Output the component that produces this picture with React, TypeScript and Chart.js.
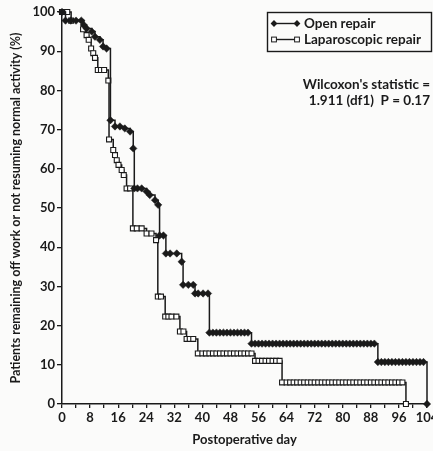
import React, { useEffect, useRef } from "react";
import { Chart, registerables } from "chart.js";

Chart.register(...registerables);

// ---- Data ----
const seriesNames = ["Open repair", "Laparoscopic repair"];

const openDays = [
  0, 1, 2.5, 4, 5.5, 6.2, 7, 8.5, 9.4, 10.8, 11.7, 12.7, 13.8, 15.1, 16.5, 17.9, 19.4,
  20.3, 20.6, 21.5, 22.7, 24.1, 25, 26.5, 27.4, 27.8, 28.9, 29.6, 30.8, 32.7, 34.1,
  34.5, 36, 37.4, 37.9, 38.8, 40.2, 41.6, 42, 43, 44, 45, 46, 47, 48, 49, 50, 51, 52,
  53, 54, 55, 56, 57, 58, 59, 60, 61, 62, 63, 64, 65, 66, 67, 68, 69, 70, 71, 72, 73,
  74, 75, 76, 77, 78, 79, 80, 81, 82, 83, 84, 85, 86, 87, 88, 89, 90, 91, 92, 93, 94,
  95, 96, 97, 98, 99, 100, 101, 102, 103, 104,
];
const openValues = [
  100, 97.8, 97.8, 97.8, 97.8, 96.7, 95.8, 95, 93.7, 92.9, 91.2, 90.7, 72.4, 70.8, 70.8,
  70.3, 69.5, 65.2, 55, 55, 55, 54.2, 53.3, 52, 50.8, 43, 43, 38.4, 38.4, 38.4, 36.3,
  30.4, 30.4, 30.4, 28.2, 28.2, 28.2, 28.2, 18.2, 18.2, 18.2, 18.2, 18.2, 18.2, 18.2,
  18.2, 18.2, 18.2, 18.2, 18.2, 15.4, 15.4, 15.4, 15.4, 15.4, 15.4, 15.4, 15.4, 15.4,
  15.4, 15.4, 15.4, 15.4, 15.4, 15.4, 15.4, 15.4, 15.4, 15.4, 15.4, 15.4, 15.4, 15.4,
  15.4, 15.4, 15.4, 15.4, 15.4, 15.4, 15.4, 15.4, 15.4, 15.4, 15.4, 15.4, 15.4, 10.7,
  10.7, 10.7, 10.7, 10.7, 10.7, 10.7, 10.7, 10.7, 10.7, 10.7, 10.7, 10.7, 10.7, 0,
];

const lapDays = [
  0, 1.5, 2.6, 6, 7, 7.6, 8.3, 8.9, 9.4, 10.2, 11.1, 12, 13.2, 13.4, 14.6, 15.1, 15.6,
  16.1, 17, 17.6, 18.4, 19.4, 20.2, 21.3, 22.7, 24.1, 25.5, 26.8, 27.3, 28.2, 29.4,
  30.3, 31.2, 32.6, 33.6, 34.6, 35.5, 36.4, 37.4, 38.7, 40, 41, 42, 43, 44, 45, 46, 47,
  48, 49, 50, 51, 52, 53, 54, 55, 56, 57, 58, 59, 60, 61, 62, 62.7, 64, 65, 66, 67, 68,
  69, 70, 71, 72, 73, 74, 75, 76, 77, 78, 79, 80, 81, 82, 83, 84, 85, 86, 87, 88, 89, 90,
  91, 92, 93, 94, 95, 96, 97, 98, 99.6,
];
const lapValues = [
  100, 100, 97.8, 95.6, 94.1, 92.9, 90.7, 89.5, 88.3, 85.2, 85.2, 85.2, 82.5, 67.5, 64.8,
  63.5, 62.2, 61, 59.7, 58.4, 55, 55, 44.8, 44.8, 44.8, 43.5, 43.5, 41.8, 27.4, 27.4,
  22.3, 22.3, 22.3, 22.3, 18.5, 18.5, 16.6, 16.6, 16.6, 12.9, 12.9, 12.9, 12.9, 12.9,
  12.9, 12.9, 12.9, 12.9, 12.9, 12.9, 12.9, 12.9, 12.9, 12.9, 12.9, 11, 11, 11, 11, 11,
  11, 11, 11, 5.5, 5.5, 5.5, 5.5, 5.5, 5.5, 5.5, 5.5, 5.5, 5.5, 5.5, 5.5, 5.5, 5.5, 5.5,
  5.5, 5.5, 5.5, 5.5, 5.5, 5.5, 5.5, 5.5, 5.5, 5.5, 5.5, 5.5, 5.5, 5.5, 5.5, 5.5, 5.5,
  5.5, 5.5, 5.5, 0,
];

const xMin = 0;
const xMax = 104;
const xTickStep = 4;
const xLabelStep = 8;
const yMin = 0;
const yMax = 100;
const yTickStep = 10;

const xTitle = "Postoperative day";
const yTitle = "Patients remaining off work or not resuming normal activity (%)";
const statLines = ["Wilcoxon's statistic =", "1.911 (df1)  P = 0.17"];

// ---- Styles ----
const INK = "#1a1a1a";
const FONT = "Lato, 'Open Sans', sans-serif";
const WEIGHT = "bold";

function drawDiamond(ctx: CanvasRenderingContext2D, x: number, y: number, r: number) {
  ctx.beginPath();
  ctx.moveTo(x, y - r);
  ctx.lineTo(x + r, y);
  ctx.lineTo(x, y + r);
  ctx.lineTo(x - r, y);
  ctx.closePath();
  ctx.fillStyle = INK;
  ctx.fill();
}

function drawSquare(ctx: CanvasRenderingContext2D, x: number, y: number, h: number) {
  ctx.fillStyle = "#ffffff";
  ctx.fillRect(x - h, y - h, 2 * h, 2 * h);
  ctx.strokeStyle = INK;
  ctx.lineWidth = 1;
  ctx.strokeRect(x - h, y - h, 2 * h, 2 * h);
}

const annotationPlugin = {
  id: "kmAnnotations",
  afterDraw(chart: any) {
    const ctx: CanvasRenderingContext2D = chart.ctx;
    ctx.save();
    // legend box
    const bx = 267.5, by = 12.5, bw = 164, bh = 39;
    ctx.strokeStyle = INK;
    ctx.lineWidth = 1.4;
    ctx.strokeRect(bx, by, bw, bh);
    const rows = [23.5, 39.5];
    ctx.font = `${WEIGHT} 13.5px ${FONT}`;
    ctx.textBaseline = "middle";
    ctx.textAlign = "left";
    seriesNames.forEach((name, i) => {
      const y = rows[i];
      ctx.strokeStyle = INK;
      ctx.lineWidth = 1.4;
      ctx.beginPath();
      ctx.moveTo(274, y);
      ctx.lineTo(297, y);
      ctx.stroke();
      if (i === 0) {
        drawDiamond(ctx, 274, y, 3.4);
        drawDiamond(ctx, 297, y, 3.4);
      } else {
        drawSquare(ctx, 274, y, 2.4);
        drawSquare(ctx, 297, y, 2.4);
      }
      ctx.fillStyle = INK;
      ctx.fillText(name, 304, y);
    });
    // statistic text
    ctx.textAlign = "right";
    ctx.font = `${WEIGHT} 13.5px ${FONT}`;
    ctx.fillStyle = INK;
    ctx.fillText(statLines[0], 430, 85);
    ctx.fillText(statLines[1], 430, 101);
    ctx.restore();
  },
};

export default function App() {
  const canvasRef = useRef<HTMLCanvasElement | null>(null);

  useEffect(() => {
    if (!canvasRef.current) return;
    const openData = openDays.map((d, i) => ({ x: d, y: openValues[i] }));
    const lapData = lapDays.map((d, i) => ({ x: d, y: lapValues[i] }));

    const chart = new Chart(canvasRef.current, {
      type: "line",
      data: {
        datasets: [
          {
            label: seriesNames[0],
            data: openData,
            stepped: "before",
            borderColor: INK,
            borderWidth: 1.5,
            pointStyle: "rectRot",
            pointRadius: 3.7,
            pointBackgroundColor: INK,
            pointBorderColor: INK,
            pointBorderWidth: 0.5,
            clip: false,
            order: 0,
          },
          {
            label: seriesNames[1],
            data: lapData,
            stepped: "before",
            borderColor: INK,
            borderWidth: 1.5,
            pointStyle: "rect",
            pointRadius: 3.5,
            pointBackgroundColor: "#ffffff",
            pointBorderColor: INK,
            pointBorderWidth: 1.1,
            clip: false,
            order: 1,
          },
        ],
      },
      options: {
        animation: false,
        responsive: false,
        devicePixelRatio: 1,
        layout: { padding: { top: 12, right: 6, left: 0, bottom: 0 } },
        plugins: {
          legend: { display: false },
          tooltip: { enabled: false },
        },
        scales: {
          x: {
            type: "linear",
            min: xMin,
            max: xMax,
            afterFit: (s: any) => {
              s.height = 47;
              s.paddingLeft = 0;
              s.paddingRight = 0;
            },
            ticks: {
              stepSize: xTickStep,
              autoSkip: false,
              maxRotation: 0,
              padding: 2,
              color: INK,
              font: { family: FONT, size: 13, weight: WEIGHT },
              callback: (v: any) => (Number(v) % xLabelStep === 0 ? String(v) : ""),
            },
            grid: {
              display: true,
              drawOnChartArea: false,
              drawTicks: true,
              tickLength: 4,
              color: INK,
              lineWidth: 1.3,
            },
            border: { display: true, color: INK, width: 1.5 },
            title: {
              display: true,
              text: xTitle,
              color: INK,
              font: { family: FONT, size: 13, weight: WEIGHT },
              padding: { top: 0, bottom: 3 },
            },
          },
          y: {
            type: "linear",
            min: yMin,
            max: yMax,
            afterFit: (s: any) => {
              s.width = 62;
            },
            ticks: {
              stepSize: yTickStep,
              padding: 2,
              color: INK,
              font: { family: FONT, size: 13, weight: WEIGHT },
            },
            grid: {
              display: true,
              drawOnChartArea: false,
              drawTicks: true,
              tickLength: 5,
              color: INK,
              lineWidth: 1.3,
            },
            border: { display: true, color: INK, width: 1.5 },
            title: {
              display: true,
              text: yTitle,
              color: INK,
              font: { family: FONT, size: 12.5, weight: WEIGHT },
              padding: { top: 8, bottom: 0 },
            },
          },
        },
      },
      plugins: [annotationPlugin],
    } as any);

    return () => chart.destroy();
  }, []);

  return (
    <div
      style={{
        position: "fixed",
        left: 0,
        top: 0,
        width: 433,
        height: 451,
        background: "#fbfbfa",
      }}
    >
      <canvas ref={canvasRef} width={433} height={451} />
    </div>
  );
}
